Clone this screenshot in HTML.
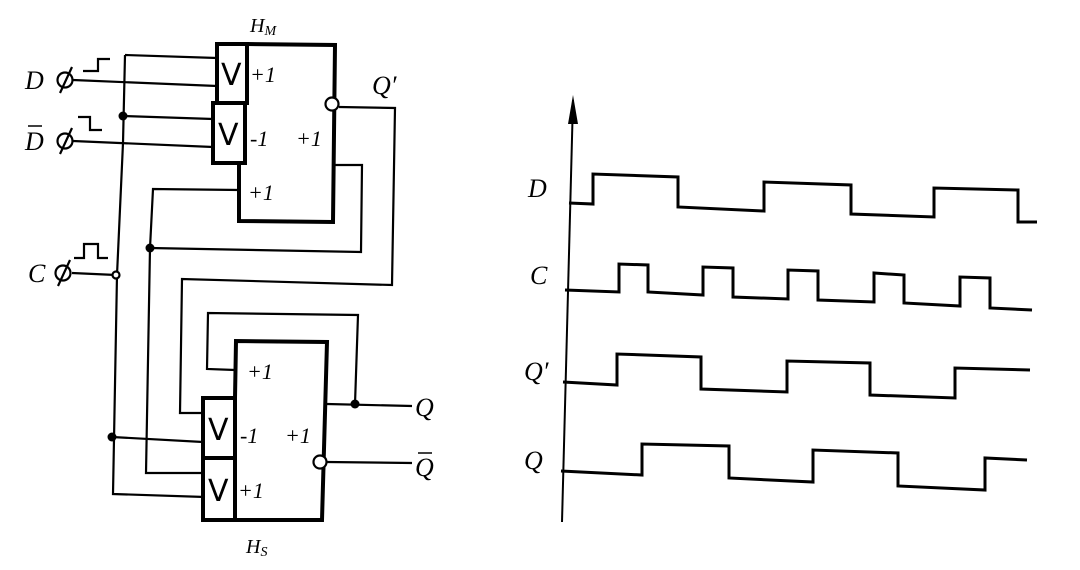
<!DOCTYPE html>
<html><head><meta charset="utf-8"><style>
html,body{margin:0;padding:0;background:#fff;}
svg{display:block;}
text{font-family:"Liberation Serif",serif;font-style:italic;fill:#000;}
.v{font-style:normal;font-family:"DejaVu Sans","Liberation Sans",sans-serif;}
</style></head><body>
<svg width="1080" height="570" viewBox="0 0 1080 570" xmlns="http://www.w3.org/2000/svg">
<g fill="none" stroke="#000" stroke-linejoin="miter">
<g stroke-width="4">
<rect x="217" y="44" width="30" height="59"/>
<rect x="213" y="103" width="32" height="60"/>
<polyline points="247,44 335,45 333,222 239,221 239,163"/>
</g>
<g stroke-width="4">
<rect x="203" y="398" width="32" height="60"/>
<rect x="203" y="458" width="32" height="62"/>
<polyline points="235,398 236,341 327,342 322,520 235,520"/>
</g>
<g stroke-width="2.2">
<line x1="73" y1="80" x2="217" y2="86"/>
<line x1="73" y1="141" x2="213" y2="147"/>
<line x1="125" y1="55" x2="217" y2="58"/>
<line x1="123" y1="116" x2="213" y2="119"/>
<polyline points="125,55 123,143 117,275 113,494 205,497"/>
<line x1="72" y1="273" x2="116" y2="275"/>
<line x1="112" y1="437" x2="203" y2="442"/>
<polyline points="240,190 153,189 150,248 146,473 203,473"/>
<polyline points="335,165 362,165 361,252 150,248"/>
<polyline points="339,107 395,108 392,285 182,279 180,413 203,413"/>
<polyline points="235,370 207,369 208,313 358,315 355,404"/>
<line x1="327" y1="404" x2="412" y2="406"/>
<line x1="327" y1="462" x2="412" y2="463"/>
<polyline points="83,71 98,71 98,59 110,59"/>
<polyline points="78,117 90,117 90,130 102,130"/>
<polyline points="74,258 84,258 84,244 98,244 98,258 108,258"/>
</g>
<g stroke-width="2.2">
<circle cx="65" cy="80" r="7.5"/><line x1="60" y1="93" x2="72" y2="67"/>
<circle cx="65" cy="141" r="7.5"/><line x1="60" y1="154" x2="72" y2="128"/>
<circle cx="63" cy="273" r="7.5"/><line x1="58" y1="286" x2="70" y2="260"/>
<circle cx="116" cy="275" r="3.5" fill="#fff"/>
<circle cx="332" cy="104" r="6.5" fill="#fff"/>
<circle cx="320" cy="462" r="6.5" fill="#fff"/>
</g>
<g fill="#000" stroke="none">
<circle cx="123" cy="116" r="4.5"/>
<circle cx="150" cy="248" r="4.5"/>
<circle cx="112" cy="437" r="4.5"/>
<circle cx="355" cy="404" r="4.5"/>
</g>
<line x1="573" y1="100" x2="562" y2="522" stroke-width="2"/>
<polygon points="573,95 568,124 578,124" fill="#000" stroke="none"/>
<g stroke-width="3">
<polyline points="569,203 593,204 593,174 678,177 678,207 764,211 764,182 851,185 851,214 934,217 934,188 1018,190 1018,222 1037,222"/>
<polyline points="565,290 619,292 619,264 648,265 648,292 703,295 703,267 733,268 733,297 788,299 788,270 818,271 818,300 874,302 874,273 904,275 904,303 960,306 960,277 990,278 990,308 1032,310"/>
<polyline points="563,382 617,385 617,354 701,357 701,389 787,392 787,361 870,363 870,395 955,398 955,368 1030,370"/>
<polyline points="561,471 642,475 642,444 729,446 729,478 813,482 813,450 898,453 898,486 985,490 985,458 1027,460"/>
</g>
</g>
<g font-size="26">
<text x="25" y="89">D</text>
<text x="25" y="150">D</text>
<text x="28" y="282">C</text>
<text x="372" y="94">Q′</text>
<text x="415" y="416">Q</text>
<text x="415" y="476">Q</text>
<text x="528" y="197">D</text>
<text x="530" y="284">C</text>
<text x="524" y="380">Q′</text>
<text x="524" y="469">Q</text>
</g>
<g stroke="#000" stroke-width="1.5">
<line x1="28" y1="126" x2="42" y2="126"/>
<line x1="418" y1="453" x2="432" y2="453"/>
</g>
<g font-size="22">
<text x="250" y="82">+1</text>
<text x="250" y="146">-1</text>
<text x="296" y="146">+1</text>
<text x="248" y="200">+1</text>
<text x="247" y="379">+1</text>
<text x="240" y="443">-1</text>
<text x="285" y="443">+1</text>
<text x="238" y="498">+1</text>
</g>
<g font-size="20">
<text x="250" y="32">H<tspan font-size="14" dy="3">M</tspan></text>
<text x="246" y="553">H<tspan font-size="14" dy="3">S</tspan></text>
</g>
<g font-size="30">
<text class="v" x="221" y="85">V</text>
<text class="v" x="218" y="145">V</text>
<text class="v" x="208" y="440">V</text>
<text class="v" x="208" y="501">V</text>
</g>
</svg>
</body></html>
